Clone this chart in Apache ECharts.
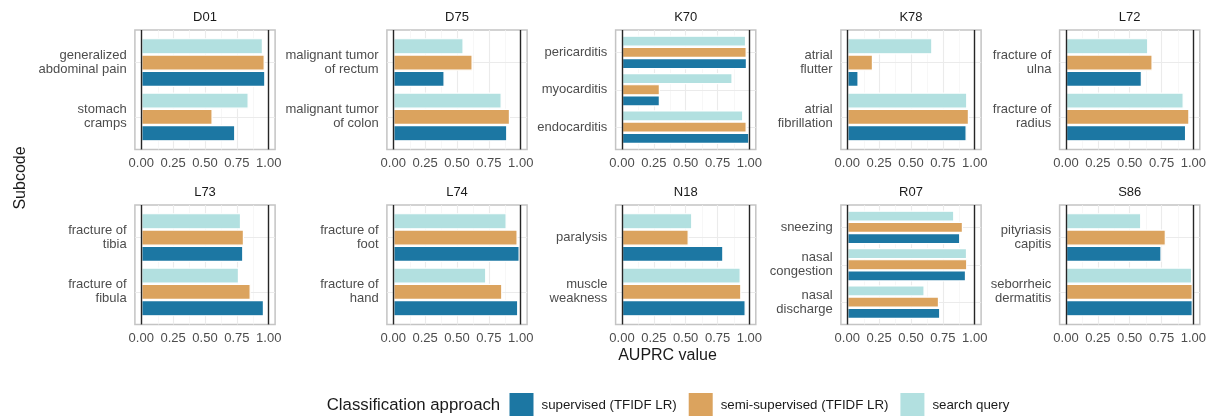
<!DOCTYPE html>
<html><head><meta charset="utf-8">
<script src="https://cdn.jsdelivr.net/npm/echarts@6/dist/echarts.min.js"></script>
<style>html,body{margin:0;padding:0;background:#fff}#c{width:1215px;height:416px}</style>
</head><body><div id="c"></div>
<script>
// ---------- data ----------
const panelCodes = ['D01','D75','K70','K78','L72','L73','L74','N18','R07','S86'];
const seriesNames = ['supervised (TFIDF LR)','semi-supervised (TFIDF LR)','search query'];
const xTickValues = [0, 0.25, 0.5, 0.75, 1];
const minorGridValues = [0.125, 0.375, 0.625, 0.875];
const refLineValues = [0, 1];

const D01_categories = ['generalized\nabdominal pain','stomach\ncramps'];
const D01_supervised = [0.974, 0.738];
const D01_semi       = [0.969, 0.560];
const D01_search     = [0.955, 0.843];

const D75_categories = ['malignant tumor\nof rectum','malignant tumor\nof colon'];
const D75_supervised = [0.403, 0.895];
const D75_semi       = [0.623, 0.916];
const D75_search     = [0.552, 0.851];

const K70_categories = ['pericarditis','myocarditis','endocarditis'];
const K70_supervised = [0.981, 0.298, 1.000];
const K70_semi       = [0.979, 0.298, 0.979];
const K70_search     = [0.974, 0.868, 0.952];

const K78_categories = ['atrial\nflutter','atrial\nfibrillation'];
const K78_supervised = [0.089, 0.937];
const K78_semi       = [0.202, 0.955];
const K78_search     = [0.668, 0.942];

const L72_categories = ['fracture of\nulna','fracture of\nradius'];
const L72_supervised = [0.596, 0.943];
const L72_semi       = [0.680, 0.969];
const L72_search     = [0.646, 0.924];

const L73_categories = ['fracture of\ntibia','fracture of\nfibula'];
const L73_supervised = [0.801, 0.963];
const L73_semi       = [0.806, 0.859];
const L73_search     = [0.783, 0.767];

const L74_categories = ['fracture of\nfoot','fracture of\nhand'];
const L74_supervised = [0.992, 0.981];
const L74_semi       = [0.976, 0.856];
const L74_search     = [0.890, 0.730];

const N18_categories = ['paralysis','muscle\nweakness'];
const N18_supervised = [0.796, 0.971];
const N18_semi       = [0.524, 0.937];
const N18_search     = [0.552, 0.932];

const R07_categories = ['sneezing','nasal\ncongestion','nasal\ndischarge'];
const R07_supervised = [0.887, 0.932, 0.730];
const R07_semi       = [0.908, 0.942, 0.720];
const R07_search     = [0.840, 0.940, 0.607];

const S86_categories = ['pityriasis\ncapitis','seborrheic\ndermatitis'];
const S86_supervised = [0.750, 0.995];
const S86_semi       = [0.784, 0.995];
const S86_search     = [0.591, 0.990];

const panelData = {
  D01: [D01_categories, D01_supervised, D01_semi, D01_search],
  D75: [D75_categories, D75_supervised, D75_semi, D75_search],
  K70: [K70_categories, K70_supervised, K70_semi, K70_search],
  K78: [K78_categories, K78_supervised, K78_semi, K78_search],
  L72: [L72_categories, L72_supervised, L72_semi, L72_search],
  L73: [L73_categories, L73_supervised, L73_semi, L73_search],
  L74: [L74_categories, L74_supervised, L74_semi, L74_search],
  N18: [N18_categories, N18_supervised, N18_semi, N18_search],
  R07: [R07_categories, R07_supervised, R07_semi, R07_search],
  S86: [S86_categories, S86_supervised, S86_semi, S86_search]
};

// ---------- styling / layout ----------
const FONT = '"Liberation Sans", Arial, sans-serif';
const colors = {
  'supervised (TFIDF LR)': '#1c77a3',
  'semi-supervised (TFIDF LR)': '#dba35e',
  'search query': '#b2e0e0'
};
const colLeft = [134.9, 386.9, 615.6, 840.9, 1059.6];
const rowTop = [30, 205];
const boxW = 140.2, boxH = 119.5;
const xPad = boxW * 0.05 / 1.1, dataW = boxW / 1.1;

const grid = [], xAxis = [], yAxis = [], series = [], graphicEls = [];

panelCodes.forEach((code, i) => {
  const [cats, sup, semi, search] = panelData[code];
  const col = i % 5, row = Math.floor(i / 5);
  const L = colLeft[col], T = rowTop[row];
  const n = cats.length;
  const unit = boxH / (n + 0.2);
  const inset = 0.1 * unit;
  const fi = 2 * i, di = 2 * i + 1;

  grid.push({left: L, top: T, width: boxW, height: boxH, show: true,
    borderColor: '#c4c4c4', borderWidth: 1.5, backgroundColor: 'transparent'});
  grid.push({left: L + xPad, top: T + inset, width: dataW, height: boxH - 2 * inset, show: false});

  xAxis.push({gridIndex: fi, type: 'value', min: -0.05, max: 1.05, show: false});
  yAxis.push({gridIndex: fi, type: 'value', min: 0, max: n + 0.2, inverse: true, show: false});
  xAxis.push({gridIndex: di, type: 'value', min: 0, max: 1, interval: 0.25,
    axisLine: {show: false}, axisTick: {show: false}, splitLine: {show: false},
    axisLabel: {formatter: v => v.toFixed(2), fontSize: 13, color: '#4d4d4d', fontFamily: FONT, margin: inset + 7}});
  yAxis.push({gridIndex: di, type: 'category', data: cats, inverse: true,
    axisLine: {show: false}, axisTick: {show: false}, splitLine: {show: false},
    axisLabel: {fontSize: 13, color: '#4d4d4d', fontFamily: FONT, lineHeight: 14, margin: 14.6, align: 'right'}});

  // gridlines
  const gl = [];
  minorGridValues.forEach(v => gl.push({xAxis: v, lineStyle: {color: '#f3f3f3', width: 0.7, type: 'solid'}}));
  xTickValues.forEach(v => gl.push({xAxis: v, lineStyle: {color: '#ebebeb', width: 1.1, type: 'solid'}}));
  cats.forEach((c, k) => gl.push({yAxis: 0.6 + k, lineStyle: {color: '#ebebeb', width: 1.1, type: 'solid'}}));
  series.push({type: 'line', xAxisIndex: fi, yAxisIndex: fi, data: [], silent: true,
    markLine: {z: 1, silent: true, symbol: ['none', 'none'], label: {show: false}, animation: false, data: gl}});
  // reference lines at 0 and 1
  series.push({type: 'line', xAxisIndex: fi, yAxisIndex: fi, data: [], silent: true,
    markLine: {z: 8, silent: true, symbol: ['none', 'none'], label: {show: false}, animation: false,
      lineStyle: {color: '#262626', width: 1.4, type: 'solid'},
      data: refLineValues.map(v => ({xAxis: v}))}});

  // bars (top to bottom: search, semi, supervised)
  [['search query', search], ['semi-supervised (TFIDF LR)', semi], ['supervised (TFIDF LR)', sup]].forEach(([name, vals]) => {
    series.push({type: 'bar', name: name, xAxisIndex: di, yAxisIndex: di, data: vals,
      barWidth: '30%', barGap: '0%', z: 3, silent: true,
      itemStyle: {color: colors[name], borderColor: '#ffffff', borderWidth: 1.2}});
  });

  graphicEls.push({type: 'text', x: L + boxW / 2, y: T - 13, silent: true,
    style: {text: code, font: '13px ' + FONT, fill: '#1a1a1a', textAlign: 'center', textVerticalAlign: 'middle', align: 'center', verticalAlign: 'middle'}});
});

graphicEls.push({type: 'text', x: 667.5, y: 356, silent: true,
  style: {text: 'AUPRC value', font: '16px ' + FONT, fill: '#1a1a1a', textAlign: 'center', textVerticalAlign: 'middle', align: 'center', verticalAlign: 'middle'}});
graphicEls.push({type: 'text', x: 21, y: 178, rotation: Math.PI / 2, silent: true,
  style: {text: 'Subcode', font: '16px ' + FONT, fill: '#1a1a1a', textAlign: 'center', textVerticalAlign: 'middle', align: 'center', verticalAlign: 'middle'}});
graphicEls.push({type: 'text', x: 326.7, y: 405, silent: true,
  style: {text: 'Classification approach', font: '16.8px ' + FONT, fill: '#1a1a1a', textAlign: 'left', textVerticalAlign: 'middle', align: 'left', verticalAlign: 'middle'}});

const chart = echarts.init(document.getElementById('c'), null, {renderer: 'canvas'});
chart.setOption({
  animation: false,
  backgroundColor: '#ffffff',
  textStyle: {fontFamily: FONT},
  grid, xAxis, yAxis, series,
  legend: {data: seriesNames, left: 509.5, top: 393, padding: 0, itemWidth: 24, itemHeight: 24, itemGap: 12,
    icon: 'rect', selectedMode: false, itemStyle: {borderWidth: 0},
    textStyle: {fontSize: 13.3, color: '#1a1a1a', fontFamily: FONT, padding: [0, 0, 0, 3]}},
  graphic: {elements: graphicEls}
});
</script></body></html>
